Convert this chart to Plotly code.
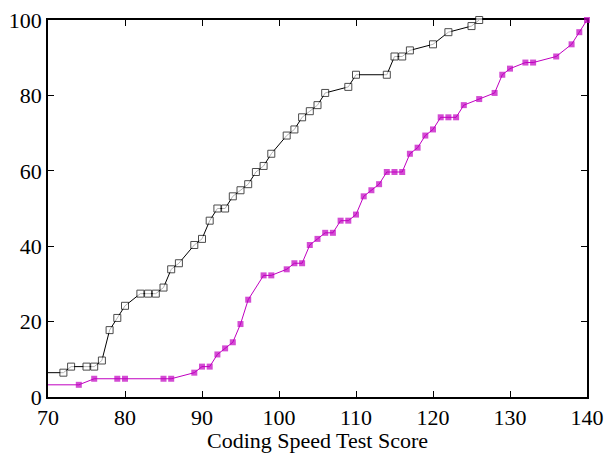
import plotly.graph_objects as go

# Cumulative percentage of subjects at or below each coding speed test score.
# The first entry of each series sits left of the visible range (score < 70)
# so the curve enters the frame at its starting level.
group_a_score = [66, 72, 73, 75, 76, 77, 78, 79, 80, 82, 83, 84, 85, 86, 87, 89, 90,
                 91, 92, 93, 94, 95, 96, 97, 98, 99, 101, 102, 103, 104, 105, 106,
                 109, 110, 114, 115, 116, 117, 120, 122, 125, 126]
group_a_pct = [6.45, 6.45, 8.06, 8.06, 8.06, 9.68, 17.74, 20.97, 24.19, 27.42, 27.42,
               27.42, 29.03, 33.87, 35.48, 40.32, 41.94, 46.77, 50.0, 50.0, 53.23,
               54.84, 56.45, 59.68, 61.29, 64.52, 69.35, 70.97, 74.19, 75.81, 77.42,
               80.65, 82.26, 85.48, 85.48, 90.32, 90.32, 91.94, 93.55, 96.77, 98.39,
               100.0]

group_b_score = [66, 74, 76, 79, 80, 85, 86, 89, 90, 91, 92, 93, 94, 95, 96, 98, 99,
                 101, 102, 103, 104, 105, 106, 107, 108, 109, 110, 111, 112, 113, 114,
                 115, 116, 117, 118, 119, 120, 121, 122, 123, 124, 126, 128, 129, 130,
                 132, 133, 136, 138, 139, 140]
group_b_pct = [3.23, 3.23, 4.84, 4.84, 4.84, 4.84, 4.84, 6.45, 8.06, 8.06, 11.29,
               12.90, 14.52, 19.35, 25.81, 32.26, 32.26, 33.87, 35.48, 35.48, 40.32,
               41.94, 43.55, 43.55, 46.77, 46.77, 48.39, 53.23, 54.84, 56.45, 59.68,
               59.68, 59.68, 64.52, 66.13, 69.35, 70.97, 74.19, 74.19, 74.19, 77.42,
               79.03, 80.65, 85.48, 87.10, 88.71, 88.71, 90.32, 93.55, 96.77, 100.0]

x_ticks = [70, 80, 90, 100, 110, 120, 130, 140]
y_ticks = [0, 20, 40, 60, 80, 100]

FONT = "Liberation Serif"
MAGENTA = "#c000c0"


def marker_sizes(xs, size):
    # hide the marker of the off-range lead-in point
    return [0 if x < x_ticks[0] else size for x in xs]


fig = go.Figure()

fig.add_trace(go.Scatter(
    x=group_a_score, y=group_a_pct, mode="lines+markers",
    line=dict(color="black", width=1),
    marker=dict(symbol="square", color="white",
                size=marker_sizes(group_a_score, 7),
                line=dict(color="black",
                          width=[0 if x < x_ticks[0] else 1 for x in group_a_score])),
    cliponaxis=False, showlegend=False,
))

fig.add_trace(go.Scatter(
    x=group_b_score, y=group_b_pct, mode="lines+markers",
    line=dict(color=MAGENTA, width=1),
    marker=dict(symbol="square", color=MAGENTA,
                size=marker_sizes(group_b_score, 6), line=dict(width=0)),
    cliponaxis=False, showlegend=False,
))

axis_common = dict(
    showgrid=False, zeroline=False, automargin=False,
    showline=True, linecolor="black", linewidth=1.5, mirror="allticks",
    ticks="inside", ticklen=6, tickwidth=1, tickcolor="black",
    tickfont=dict(family=FONT, size=22, color="black"),
    layer="below traces",
)

fig.update_xaxes(range=[70, 140], tickvals=x_ticks,
                 title=dict(text="Coding Speed Test Score",
                            font=dict(family=FONT, size=22, color="black"),
                            standoff=0),
                 **axis_common)
fig.update_yaxes(range=[0, 100], tickvals=y_ticks, **axis_common)

fig.update_layout(
    width=606, height=453,
    margin=dict(l=48, r=19, t=20, b=56),
    paper_bgcolor="white", plot_bgcolor="white",
    font=dict(family=FONT, color="black"),
)

fig.write_html("out.html")
